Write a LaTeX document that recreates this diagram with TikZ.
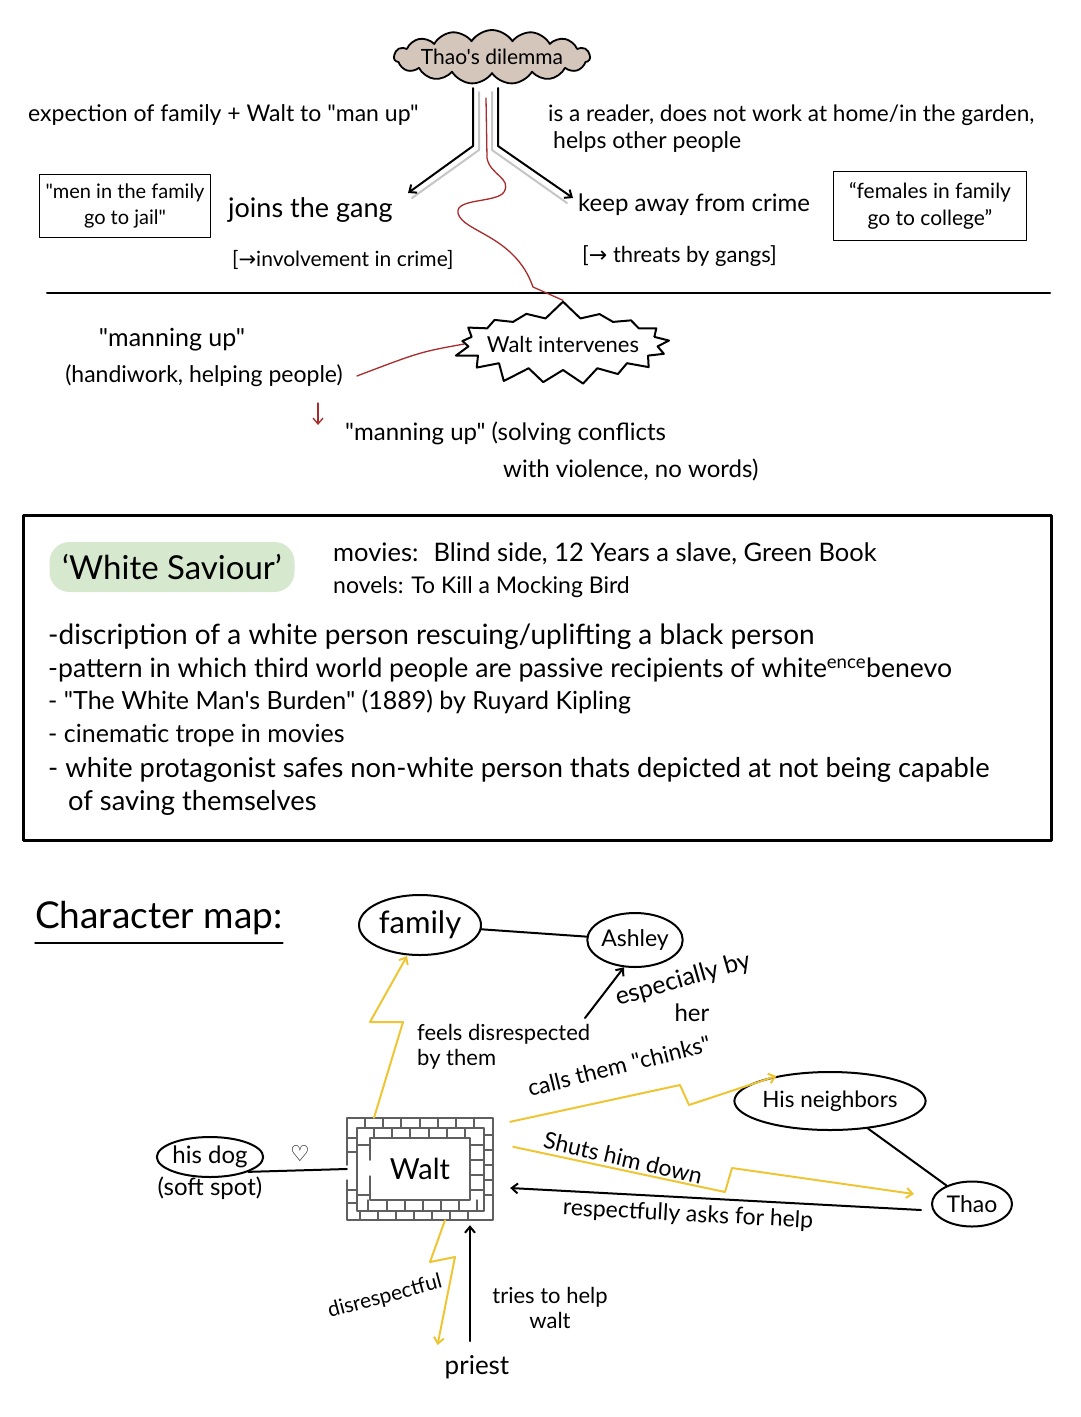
\documentclass[tikz,border=0pt]{standalone}
\usepackage{fontspec}
\setmainfont{Lato}[Ligatures=TeXOff]
\newfontfamily\symfont{DejaVu Sans}
\usetikzlibrary{shapes.symbols,shapes.geometric,arrows.meta,calc}

\definecolor{cloudtan}{RGB}{212,198,186}
\definecolor{saviourgreen}{RGB}{214,232,206}
\definecolor{inkred}{RGB}{168,44,44}
\definecolor{inkyellow}{RGB}{238,198,52}
\definecolor{brickgray}{RGB}{95,95,95}

\tikzset{
  txt/.style={inner sep=0pt, font=\fontsize{23}{26}\selectfont},
  small/.style={inner sep=0pt, font=\fontsize{21}{24}\selectfont},
  bullet/.style={anchor=west, inner sep=0pt, font=\fontsize{26}{28}\selectfont},
  quotebox/.style={draw, line width=1.8pt, align=center, font=\fontsize{20}{26}\selectfont},
  person/.style={ellipse, draw, line width=2pt, inner sep=0pt, font=\fontsize{23}{25}\selectfont},
  ink/.style={line width=2pt},
  zig/.style={inkyellow, line width=2pt, ->},
  redline/.style={inkred, line width=1.3pt},
  brick/.style={brickgray, line width=1.5pt}
}

\begin{document}
\begin{tikzpicture}[x=1pt, y=-1pt, line cap=round, line join=round,
  >={Straight Barb[length=6pt,width=10pt]}]
\useasboundingbox (0,0) rectangle (1080,1417);
\fill[white] (0,0) rectangle (1080,1417);

% Thao's dilemma
\node[cloud, draw, fill=cloudtan, line width=1.8pt, cloud puffs=15, cloud puff arc=115,
  cloud ignores aspect, inner sep=0pt, minimum width=196pt, minimum height=54pt] (dilemma) at (492,57) {};
\node[inner sep=0pt, font=\fontsize{21}{23}\selectfont] (dilemmatext) at (dilemma) {Thao's dilemma};

\node[txt, anchor=west] (expect) at (28,115) {expection of family + Walt to "man up"};
\node[txt, anchor=west, font=\fontsize{22.6}{26}\selectfont] (reader) at (548,115) {is a reader, does not work at home/in the garden,};
\node[txt, anchor=west] (helps) at (553,142) {helps other people};

\node[quotebox, minimum width=171pt, minimum height=63pt] (jail) at (125,206) {"men in the family\\go to jail"};
\node[txt, anchor=west, font=\fontsize{27}{29}\selectfont] (gang) at (228,210) {joins the gang};
\node[small, anchor=west] (crime) at (232,260) {[{\symfont →}involvement in crime]};
\node[txt, anchor=west, font=\fontsize{24}{26}\selectfont] (away) at (578,205) {keep away from crime};
\node[small, anchor=west, font=\fontsize{22}{24}\selectfont] (threats) at (582,256) {[{\symfont →} threats by gangs]};
\node[quotebox, minimum width=193pt, minimum height=69pt, font=\fontsize{21}{27}\selectfont] (college) at (930,206) {“females in family\\go to college”};

% the two ways
\coordinate (gangtip) at (408,193);
\coordinate (awaytip) at (573,198);
\draw[gray!45, line width=2pt] (479,92) -- (479,150) -- (412,198);
\draw[gray!45, line width=2pt] (492,92) -- (492,150) -- (567,203);
\draw[ink, ->] (473,88) -- (473,146) -- (gangtip);
\draw[ink, ->] (498,88) -- (498,146) -- (awaytip);

\draw[ink] (47,293) -- (1050,293);

% Walt intervenes
\node[starburst, draw, line width=2pt, starburst points=17, starburst point height=18pt,
  random starburst=7, inner sep=0pt, minimum width=226pt, minimum height=88pt] (intervene) at (563,344) {};
\node[txt, font=\fontsize{22}{24}\selectfont] (intervenetext) at (intervene) {Walt intervenes};
\node[txt, font=\fontsize{25}{27}\selectfont] (manning) at (172,340) {"manning up"};
\node[txt] (handi) at (204,376) {(handiwork, helping people)};
\node[txt, anchor=west, font=\fontsize{24}{26}\selectfont] (solving) at (345,433) {"manning up" (solving conflicts};
\node[txt, anchor=west, font=\fontsize{24}{26}\selectfont] (violence) at (503,470) {with violence, no words)};

\draw[redline] (486,98) -- (487,158) .. controls (490,175) and (512,178) .. (504,192)
  .. controls (497,203) and (455,198) .. (458,213)
  .. controls (462,232) and (515,235) .. (533,287) -- (intervene.north);
\draw[redline] (intervene.west) .. controls (420,352) .. ([shift={(14,0)}]handi.east);
\coordinate (turnfrom) at (318,403);
\coordinate (turnto) at (318,425);
\draw[redline, ->] (turnfrom) -- (turnto);

% White Saviour box
\draw[line width=3pt] (23,515) rectangle (1051,840);
\node[fill=saviourgreen, rounded corners=20pt, minimum width=245pt, minimum height=50pt,
  font=\fontsize{33}{35}\selectfont] (saviour) at (172,567) {‘White Saviour’};
\node[small, anchor=west, font=\fontsize{25.5}{27}\selectfont] (movies) at (333,554) {movies: \ Blind side, 12 Years a slave, Green Book};
\node[small, anchor=west, font=\fontsize{23}{25}\selectfont] (novels) at (333,587) {novels: To Kill a Mocking Bird};
\node[bullet, font=\fontsize{28}{30}\selectfont] (b1) at (48,637) {-discription of a white person rescuing/uplifting a black person};
\node[bullet, font=\fontsize{26.6}{28}\selectfont] (b2) at (48,670) {-pattern in which third world people are passive recipients of white\textsuperscript{ence}benevo};
\node[bullet, font=\fontsize{25}{27}\selectfont] (b3) at (48,702) {- "The White Man's Burden" (1889) by Ruyard Kipling};
\node[bullet, font=\fontsize{25}{27}\selectfont] (b4) at (48,735) {- cinematic trope in movies};
\node[bullet, font=\fontsize{27.3}{29}\selectfont] (b5) at (48,770) {- white protagonist safes non-white person thats depicted at not being capable};
\node[bullet, font=\fontsize{27.3}{29}\selectfont] (b6) at (68,803) {of saving themselves};

% Character map
\node[anchor=west, inner sep=0pt, font=\fontsize{37}{39}\selectfont] (charmap) at (35,918) {Character map:};
\draw[line width=1.5pt] ([shift={(0,8)}]charmap.south west) -- ([shift={(0,8)}]charmap.south east);

\node[person, minimum width=122pt, minimum height=60pt, font=\fontsize{31}{33}\selectfont] (family) at (420,925) {family};
\node[person, minimum width=92pt, minimum height=54pt] (ashley) at (635,940) {Ashley};
\node[person, minimum width=178pt, minimum height=58pt, font=\fontsize{22.5}{25}\selectfont] (neighbors) at (830,1101) {His neighbors};
\node[person, minimum width=80pt, minimum height=45pt] (thao) at (972,1204) {Thao};
\node[person, minimum width=98pt, minimum height=40pt, font=\fontsize{24}{26}\selectfont] (dog) at (210,1157) {his dog};
\node[txt, font=\fontsize{24}{26}\selectfont] (softspot) at (210,1188) {(soft spot)};
\node[inner sep=0pt, font=\symfont\fontsize{22}{24}\selectfont] (heart) at (300,1153) {♡};

% Walt in his wall
\node[minimum width=146pt, minimum height=102pt, inner sep=0pt, font=\fontsize{29}{31}\selectfont] (walt) at (420,1169) {Walt};
\draw[brick] (347,1165) -- (347,1118) -- (493,1118) -- (493,1220) -- (347,1220) -- (347,1180);
\draw[brick] (357,1128) rectangle (484,1211);
\draw[brick] (370,1160) -- (370,1138) -- (470,1138) -- (470,1200) -- (370,1200) -- (370,1176);
\foreach \x in {365,383,401,420,438,456,474} \draw[brick] (\x,1118) -- (\x,1128);
\foreach \x in {360,378,396,414,432,450,468} \draw[brick] (\x,1211) -- (\x,1220);
\foreach \y in {1135,1150,1165,1180,1195} \draw[brick] (484,\y) -- (493,\y);
\foreach \y in {1138,1152,1190,1203} \draw[brick] (347,\y) -- (357,\y);
\foreach \x in {374,392,410,429,447,465} \draw[brick] (\x,1128) -- (\x,1138);
\foreach \x in {368,387,405,423,441,459,477} \draw[brick] (\x,1200) -- (\x,1211);
\foreach \y in {1145,1160,1175,1190} \draw[brick] (470,\y) -- (484,\y);
\foreach \y in {1145,1195} \draw[brick] (357,\y) -- (370,\y);

\node[txt, font=\fontsize{26}{28}\selectfont] (priest) at (477,1367) {priest};

% connectors
\draw[ink] (family) -- (ashley);
\draw[ink] (neighbors) -- (thao);
\draw[ink] (dog.south east) -- (walt.west);
\draw[zig] ([shift={(-46,0)}]walt.north) -- (403,1022) -- (370,1022) -- ([shift={(-13,0)}]family.south);
\node[txt, align=left, anchor=north west, font=\fontsize{22}{25}\selectfont] (feels) at (417,1024) {feels disrespected\\by them};
\coordinate (herfrom) at (585,1018);
\draw[ink, ->] (herfrom) -- (ashley.-112);
\node[txt, rotate=16, font=\fontsize{25}{27}\selectfont] (especially) at (683,980) {especially by};
\node[txt, font=\fontsize{24}{26}\selectfont] (her) at (692,1013) {her};

\draw[zig] ([shift={(17,4)}]walt.north east) -- (680,1085) -- (689,1105) -- (neighbors.155);
\node[txt, rotate=14] (calls) at (619,1066) {calls them "chinks"};
\draw[zig] ([shift={(20,29)}]walt.north east) -- (725,1192) -- (732,1168) -- ([shift={(-17,-10)}]thao.west);
\node[txt, rotate=-13] (shuts) at (623,1158) {Shuts him down};
\draw[ink, ->] ([shift={(-10,6)}]thao.west) -- ([shift={(17,19)}]walt.east);
\node[txt, rotate=-3] (respect) at (688,1215) {respectfully asks for help};

\draw[zig] ([shift={(25,0)}]walt.south) -- (430,1262) -- (455,1257) -- ([shift={(-7,-10)}]priest.north west);
\node[txt, rotate=15, font=\fontsize{21}{23}\selectfont] (disresp) at (385,1297) {disrespectful};
\draw[ink, ->] ([shift={(-7,-14)}]priest.north) -- ([shift={(50,5)}]walt.south);
\node[txt, align=center, font=\fontsize{22}{25}\selectfont] (tries) at (550,1308) {tries to help\\walt};

\end{tikzpicture}
\end{document}
